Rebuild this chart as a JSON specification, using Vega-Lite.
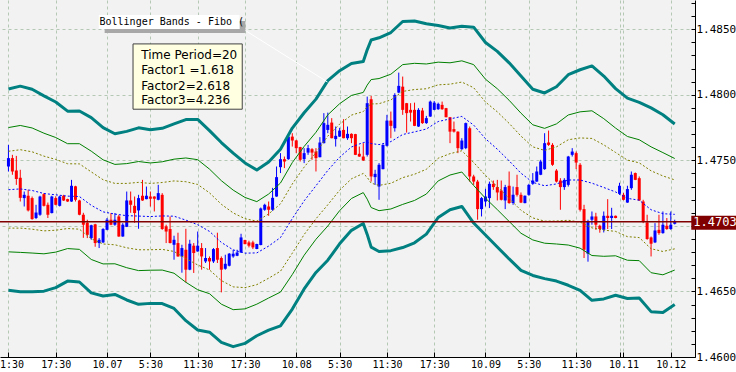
{
"$schema": "https://vega.github.io/schema/vega-lite/v6.json",
"width": 695, "height": 357,
"autosize": {"type": "none"},
"padding": {"left": 0, "top": 0, "right": 41, "bottom": 15},
"background": "#ffffff",
"config": {"view": {"fill": "#f2f2f2", "stroke": null}},
"datasets": {
"candles": [
{"k":0,"o":1.47453,"h":1.47618,"l":1.47415,"c":1.47517},
{"k":1,"o":1.47517,"h":1.47542,"l":1.47390,"c":1.47415},
{"k":2,"o":1.47422,"h":1.47534,"l":1.47313,"c":1.47357},
{"k":3,"o":1.47367,"h":1.47428,"l":1.47186,"c":1.47214},
{"k":4,"o":1.47212,"h":1.47262,"l":1.47148,"c":1.47237},
{"k":5,"o":1.47230,"h":1.47275,"l":1.47110,"c":1.47118},
{"k":6,"o":1.47212,"h":1.47224,"l":1.47047,"c":1.47052},
{"k":7,"o":1.47060,"h":1.47161,"l":1.47052,"c":1.47102},
{"k":8,"o":1.47085,"h":1.47230,"l":1.47077,"c":1.47224},
{"k":9,"o":1.47242,"h":1.47250,"l":1.47148,"c":1.47153},
{"k":10,"o":1.47161,"h":1.47178,"l":1.47060,"c":1.47085},
{"k":11,"o":1.47098,"h":1.47230,"l":1.47095,"c":1.47224},
{"k":12,"o":1.47212,"h":1.47226,"l":1.47157,"c":1.47161},
{"k":13,"o":1.47153,"h":1.47230,"l":1.47148,"c":1.47224},
{"k":14,"o":1.47230,"h":1.47237,"l":1.47190,"c":1.47194},
{"k":15,"o":1.47204,"h":1.47207,"l":1.47183,"c":1.47186},
{"k":16,"o":1.47186,"h":1.47351,"l":1.47183,"c":1.47306},
{"k":17,"o":1.47302,"h":1.47306,"l":1.47186,"c":1.47199},
{"k":18,"o":1.47194,"h":1.47199,"l":1.47081,"c":1.47085},
{"k":19,"o":1.47085,"h":1.47100,"l":1.46909,"c":1.47009},
{"k":20,"o":1.47024,"h":1.47047,"l":1.46907,"c":1.46932},
{"k":21,"o":1.46907,"h":1.47009,"l":1.46894,"c":1.47005},
{"k":22,"o":1.47012,"h":1.47016,"l":1.46841,"c":1.46869},
{"k":23,"o":1.46869,"h":1.46907,"l":1.46831,"c":1.46894},
{"k":24,"o":1.46874,"h":1.46983,"l":1.46869,"c":1.46976},
{"k":25,"o":1.46970,"h":1.47060,"l":1.46967,"c":1.47047},
{"k":26,"o":1.47047,"h":1.47098,"l":1.47005,"c":1.47009},
{"k":27,"o":1.47009,"h":1.47098,"l":1.47001,"c":1.47047},
{"k":28,"o":1.47072,"h":1.47085,"l":1.46917,"c":1.46919},
{"k":29,"o":1.46919,"h":1.47021,"l":1.46917,"c":1.47009},
{"k":30,"o":1.46993,"h":1.47262,"l":1.46991,"c":1.47194},
{"k":31,"o":1.47194,"h":1.47262,"l":1.47100,"c":1.47161},
{"k":32,"o":1.47153,"h":1.47224,"l":1.47024,"c":1.47098},
{"k":33,"o":1.47118,"h":1.47237,"l":1.46978,"c":1.47212},
{"k":34,"o":1.47230,"h":1.47351,"l":1.47191,"c":1.47194},
{"k":35,"o":1.47204,"h":1.47300,"l":1.47203,"c":1.47230},
{"k":36,"o":1.47224,"h":1.47262,"l":1.47148,"c":1.47207},
{"k":37,"o":1.47224,"h":1.47226,"l":1.47110,"c":1.47207},
{"k":38,"o":1.47199,"h":1.47313,"l":1.47195,"c":1.47250},
{"k":39,"o":1.47237,"h":1.47250,"l":1.46970,"c":1.46976},
{"k":40,"o":1.46996,"h":1.47009,"l":1.46869,"c":1.46957},
{"k":41,"o":1.46976,"h":1.47072,"l":1.46867,"c":1.46869},
{"k":42,"o":1.46856,"h":1.46925,"l":1.46742,"c":1.46894},
{"k":43,"o":1.46869,"h":1.46948,"l":1.46765,"c":1.46767},
{"k":44,"o":1.46767,"h":1.46856,"l":1.46643,"c":1.46831},
{"k":45,"o":1.46818,"h":1.46978,"l":1.46569,"c":1.46666},
{"k":46,"o":1.46666,"h":1.46894,"l":1.46662,"c":1.46864},
{"k":47,"o":1.46849,"h":1.46869,"l":1.46641,"c":1.46793},
{"k":48,"o":1.46805,"h":1.46957,"l":1.46803,"c":1.46849},
{"k":49,"o":1.46831,"h":1.46869,"l":1.46666,"c":1.46767},
{"k":50,"o":1.46729,"h":1.46831,"l":1.46717,"c":1.46755},
{"k":51,"o":1.46755,"h":1.46767,"l":1.46666,"c":1.46729},
{"k":52,"o":1.46729,"h":1.46831,"l":1.46717,"c":1.46823},
{"k":53,"o":1.46831,"h":1.46948,"l":1.46717,"c":1.46742},
{"k":54,"o":1.46755,"h":1.46767,"l":1.46493,"c":1.46666},
{"k":55,"o":1.46673,"h":1.46780,"l":1.46666,"c":1.46711},
{"k":56,"o":1.46696,"h":1.46793,"l":1.46691,"c":1.46788},
{"k":57,"o":1.46767,"h":1.46818,"l":1.46757,"c":1.46788},
{"k":58,"o":1.46772,"h":1.46818,"l":1.46769,"c":1.46797},
{"k":59,"o":1.46797,"h":1.46940,"l":1.46795,"c":1.46912},
{"k":60,"o":1.46892,"h":1.46894,"l":1.46860,"c":1.46861},
{"k":61,"o":1.46874,"h":1.46887,"l":1.46836,"c":1.46849},
{"k":62,"o":1.46874,"h":1.46887,"l":1.46823,"c":1.46836},
{"k":63,"o":1.46823,"h":1.46864,"l":1.46822,"c":1.46861},
{"k":64,"o":1.46854,"h":1.47140,"l":1.46852,"c":1.47133},
{"k":65,"o":1.47123,"h":1.47169,"l":1.47115,"c":1.47161},
{"k":66,"o":1.47148,"h":1.47186,"l":1.47077,"c":1.47123},
{"k":67,"o":1.47123,"h":1.47290,"l":1.47115,"c":1.47214},
{"k":68,"o":1.47224,"h":1.47453,"l":1.47222,"c":1.47372},
{"k":69,"o":1.47448,"h":1.47555,"l":1.47403,"c":1.47509},
{"k":70,"o":1.47509,"h":1.47529,"l":1.47441,"c":1.47491},
{"k":71,"o":1.47509,"h":1.47694,"l":1.47504,"c":1.47681},
{"k":72,"o":1.47681,"h":1.47707,"l":1.47605,"c":1.47651},
{"k":73,"o":1.47652,"h":1.47656,"l":1.47555,"c":1.47593},
{"k":74,"o":1.47601,"h":1.47603,"l":1.47491,"c":1.47504},
{"k":75,"o":1.47509,"h":1.47593,"l":1.47479,"c":1.47555},
{"k":76,"o":1.47559,"h":1.47618,"l":1.47542,"c":1.47593},
{"k":77,"o":1.47585,"h":1.47593,"l":1.47504,"c":1.47559},
{"k":78,"o":1.47567,"h":1.47593,"l":1.47415,"c":1.47517},
{"k":79,"o":1.47524,"h":1.47677,"l":1.47523,"c":1.47636},
{"k":80,"o":1.47631,"h":1.47860,"l":1.47629,"c":1.47784},
{"k":81,"o":1.47732,"h":1.47864,"l":1.47707,"c":1.47771},
{"k":82,"o":1.47788,"h":1.47822,"l":1.47668,"c":1.47669},
{"k":83,"o":1.47662,"h":1.47758,"l":1.47605,"c":1.47687},
{"k":84,"o":1.47681,"h":1.47748,"l":1.47679,"c":1.47727},
{"k":85,"o":1.47732,"h":1.47814,"l":1.47668,"c":1.47669},
{"k":86,"o":1.47669,"h":1.47758,"l":1.47656,"c":1.47702},
{"k":87,"o":1.47702,"h":1.47706,"l":1.47631,"c":1.47669},
{"k":88,"o":1.47700,"h":1.47702,"l":1.47540,"c":1.47542},
{"k":89,"o":1.47550,"h":1.47605,"l":1.47527,"c":1.47529},
{"k":90,"o":1.47529,"h":1.47631,"l":1.47496,"c":1.47499},
{"k":91,"o":1.47542,"h":1.47986,"l":1.47529,"c":1.47936},
{"k":92,"o":1.47966,"h":1.47992,"l":1.47338,"c":1.47377},
{"k":93,"o":1.47372,"h":1.47428,"l":1.47313,"c":1.47397},
{"k":94,"o":1.47300,"h":1.47479,"l":1.47199,"c":1.47466},
{"k":95,"o":1.47433,"h":1.47622,"l":1.47431,"c":1.47618},
{"k":96,"o":1.47611,"h":1.47847,"l":1.47605,"c":1.47803},
{"k":97,"o":1.47803,"h":1.47872,"l":1.47669,"c":1.47763},
{"k":98,"o":1.47745,"h":1.48012,"l":1.47719,"c":1.47999},
{"k":99,"o":1.48017,"h":1.48169,"l":1.48012,"c":1.48068},
{"k":100,"o":1.48062,"h":1.48139,"l":1.47847,"c":1.47885},
{"k":101,"o":1.47936,"h":1.47938,"l":1.47712,"c":1.47860},
{"k":102,"o":1.47885,"h":1.47936,"l":1.47796,"c":1.47864},
{"k":103,"o":1.47885,"h":1.47940,"l":1.47761,"c":1.47763},
{"k":104,"o":1.47758,"h":1.47898,"l":1.47755,"c":1.47885},
{"k":105,"o":1.47880,"h":1.47900,"l":1.47778,"c":1.47784},
{"k":106,"o":1.47784,"h":1.47839,"l":1.47778,"c":1.47822},
{"k":107,"o":1.47834,"h":1.47956,"l":1.47832,"c":1.47948},
{"k":108,"o":1.47885,"h":1.47953,"l":1.47883,"c":1.47940},
{"k":109,"o":1.47890,"h":1.47940,"l":1.47885,"c":1.47931},
{"k":110,"o":1.47923,"h":1.47948,"l":1.47885,"c":1.47890},
{"k":111,"o":1.47898,"h":1.47900,"l":1.47828,"c":1.47829},
{"k":112,"o":1.47829,"h":1.47831,"l":1.47631,"c":1.47719},
{"k":113,"o":1.47738,"h":1.47796,"l":1.47712,"c":1.47719},
{"k":114,"o":1.47719,"h":1.47721,"l":1.47555,"c":1.47593},
{"k":115,"o":1.47585,"h":1.47669,"l":1.47580,"c":1.47651},
{"k":116,"o":1.47593,"h":1.47788,"l":1.47585,"c":1.47784},
{"k":117,"o":1.47745,"h":1.47758,"l":1.47338,"c":1.47377},
{"k":118,"o":1.47377,"h":1.47390,"l":1.47313,"c":1.47338},
{"k":119,"o":1.47338,"h":1.47351,"l":1.47047,"c":1.47128},
{"k":120,"o":1.47128,"h":1.47220,"l":1.47072,"c":1.47212},
{"k":121,"o":1.47186,"h":1.47283,"l":1.47148,"c":1.47224},
{"k":122,"o":1.47212,"h":1.47338,"l":1.47136,"c":1.47321},
{"k":123,"o":1.47321,"h":1.47346,"l":1.47275,"c":1.47296},
{"k":124,"o":1.47296,"h":1.47351,"l":1.47194,"c":1.47255},
{"k":125,"o":1.47270,"h":1.47346,"l":1.47194,"c":1.47199},
{"k":126,"o":1.47194,"h":1.47313,"l":1.47128,"c":1.47296},
{"k":127,"o":1.47306,"h":1.47415,"l":1.47169,"c":1.47174},
{"k":128,"o":1.47174,"h":1.47300,"l":1.47161,"c":1.47237},
{"k":129,"o":1.47296,"h":1.47390,"l":1.47224,"c":1.47237},
{"k":130,"o":1.47237,"h":1.47255,"l":1.47174,"c":1.47178},
{"k":131,"o":1.47174,"h":1.47232,"l":1.47172,"c":1.47230},
{"k":132,"o":1.47237,"h":1.47321,"l":1.47230,"c":1.47313},
{"k":133,"o":1.47321,"h":1.47403,"l":1.47313,"c":1.47346},
{"k":134,"o":1.47338,"h":1.47453,"l":1.47336,"c":1.47415},
{"k":135,"o":1.47390,"h":1.47504,"l":1.47387,"c":1.47491},
{"k":136,"o":1.47433,"h":1.47707,"l":1.47428,"c":1.47631},
{"k":137,"o":1.47636,"h":1.47727,"l":1.47610,"c":1.47618},
{"k":138,"o":1.47618,"h":1.47631,"l":1.47458,"c":1.47466},
{"k":139,"o":1.47422,"h":1.47433,"l":1.47331,"c":1.47338},
{"k":140,"o":1.47346,"h":1.47364,"l":1.47123,"c":1.47296},
{"k":141,"o":1.47296,"h":1.47364,"l":1.47275,"c":1.47351},
{"k":142,"o":1.47313,"h":1.47534,"l":1.47300,"c":1.47529},
{"k":143,"o":1.47542,"h":1.47593,"l":1.47529,"c":1.47567},
{"k":144,"o":1.47555,"h":1.47567,"l":1.47433,"c":1.47483},
{"k":145,"o":1.47466,"h":1.47479,"l":1.47110,"c":1.47123},
{"k":146,"o":1.47128,"h":1.47161,"l":1.46755,"c":1.46818},
{"k":147,"o":1.46788,"h":1.47047,"l":1.46727,"c":1.47034},
{"k":148,"o":1.47047,"h":1.47110,"l":1.47009,"c":1.47072},
{"k":149,"o":1.47072,"h":1.47100,"l":1.46970,"c":1.47009},
{"k":150,"o":1.47001,"h":1.47009,"l":1.46948,"c":1.46976},
{"k":151,"o":1.46970,"h":1.47110,"l":1.46950,"c":1.47077},
{"k":152,"o":1.47077,"h":1.47204,"l":1.46976,"c":1.47060},
{"k":153,"o":1.47060,"h":1.47138,"l":1.46976,"c":1.47077},
{"k":154,"o":1.47077,"h":1.47079,"l":1.47058,"c":1.47060},
{"k":155,"o":1.47245,"h":1.47329,"l":1.47237,"c":1.47306},
{"k":156,"o":1.47237,"h":1.47252,"l":1.47195,"c":1.47199},
{"k":157,"o":1.47178,"h":1.47306,"l":1.47176,"c":1.47281},
{"k":158,"o":1.47288,"h":1.47415,"l":1.47275,"c":1.47390},
{"k":159,"o":1.47403,"h":1.47407,"l":1.47349,"c":1.47351},
{"k":160,"o":1.47364,"h":1.47377,"l":1.47191,"c":1.47194},
{"k":161,"o":1.47186,"h":1.47199,"l":1.47021,"c":1.47034},
{"k":162,"o":1.47026,"h":1.47085,"l":1.46894,"c":1.46900},
{"k":163,"o":1.46912,"h":1.46919,"l":1.46767,"c":1.46864},
{"k":164,"o":1.46874,"h":1.47021,"l":1.46869,"c":1.46965},
{"k":165,"o":1.46970,"h":1.47085,"l":1.46932,"c":1.46945},
{"k":166,"o":1.46945,"h":1.47110,"l":1.46940,"c":1.47009},
{"k":167,"o":1.47001,"h":1.47060,"l":1.46970,"c":1.46976},
{"k":168,"o":1.46976,"h":1.47110,"l":1.46970,"c":1.47009},
{"k":169,"o":1.47016,"h":1.47047,"l":1.47011,"c":1.47031}
],
"bands": [
{"k":0,"u3":1.48044,"u2":1.47750,"u1":1.47569,"m":1.47276,"l1":1.46983,"l2":1.46802,"l3":1.46509},
{"k":3,"u3":1.48066,"u2":1.47766,"u1":1.47581,"m":1.47282,"l1":1.46983,"l2":1.46798,"l3":1.46498},
{"k":6,"u3":1.48042,"u2":1.47747,"u1":1.47565,"m":1.47270,"l1":1.46975,"l2":1.46793,"l3":1.46498},
{"k":9,"u3":1.47992,"u2":1.47707,"u1":1.47532,"m":1.47247,"l1":1.46962,"l2":1.46787,"l3":1.46502},
{"k":12,"u3":1.47945,"u2":1.47674,"u1":1.47507,"m":1.47237,"l1":1.46967,"l2":1.46800,"l3":1.46529},
{"k":15,"u3":1.47875,"u2":1.47627,"u1":1.47474,"m":1.47227,"l1":1.46980,"l2":1.46827,"l3":1.46579},
{"k":18,"u3":1.47876,"u2":1.47627,"u1":1.47473,"m":1.47224,"l1":1.46975,"l2":1.46821,"l3":1.46572},
{"k":21,"u3":1.47826,"u2":1.47570,"u1":1.47412,"m":1.47157,"l1":1.46902,"l2":1.46744,"l3":1.46489},
{"k":24,"u3":1.47749,"u2":1.47504,"u1":1.47352,"m":1.47107,"l1":1.46862,"l2":1.46710,"l3":1.46465},
{"k":27,"u3":1.47703,"u2":1.47469,"u1":1.47324,"m":1.47090,"l1":1.46856,"l2":1.46711,"l3":1.46477},
{"k":30,"u3":1.47721,"u2":1.47475,"u1":1.47324,"m":1.47078,"l1":1.46833,"l2":1.46681,"l3":1.46435},
{"k":33,"u3":1.47748,"u2":1.47491,"u1":1.47332,"m":1.47075,"l1":1.46818,"l2":1.46659,"l3":1.46402},
{"k":36,"u3":1.47734,"u2":1.47480,"u1":1.47324,"m":1.47071,"l1":1.46818,"l2":1.46662,"l3":1.46409},
{"k":39,"u3":1.47744,"u2":1.47489,"u1":1.47331,"m":1.47076,"l1":1.46821,"l2":1.46663,"l3":1.46408},
{"k":42,"u3":1.47778,"u2":1.47509,"u1":1.47343,"m":1.47074,"l1":1.46805,"l2":1.46639,"l3":1.46370},
{"k":45,"u3":1.47811,"u2":1.47518,"u1":1.47337,"m":1.47044,"l1":1.46751,"l2":1.46570,"l3":1.46277},
{"k":48,"u3":1.47812,"u2":1.47505,"u1":1.47316,"m":1.47009,"l1":1.46702,"l2":1.46513,"l3":1.46206},
{"k":51,"u3":1.47727,"u2":1.47433,"u1":1.47252,"m":1.46958,"l1":1.46664,"l2":1.46483,"l3":1.46189},
{"k":54,"u3":1.47636,"u2":1.47345,"u1":1.47165,"m":1.46874,"l1":1.46583,"l2":1.46403,"l3":1.46112},
{"k":57,"u3":1.47555,"u2":1.47273,"u1":1.47099,"m":1.46817,"l1":1.46535,"l2":1.46361,"l3":1.46079},
{"k":60,"u3":1.47480,"u2":1.47217,"u1":1.47055,"m":1.46792,"l1":1.46529,"l2":1.46367,"l3":1.46104},
{"k":63,"u3":1.47426,"u2":1.47185,"u1":1.47036,"m":1.46794,"l1":1.46552,"l2":1.46403,"l3":1.46162},
{"k":66,"u3":1.47488,"u2":1.47243,"u1":1.47091,"m":1.46846,"l1":1.46601,"l2":1.46450,"l3":1.46205},
{"k":69,"u3":1.47585,"u2":1.47327,"u1":1.47168,"m":1.46911,"l1":1.46654,"l2":1.46495,"l3":1.46238},
{"k":72,"u3":1.47746,"u2":1.47483,"u1":1.47320,"m":1.47056,"l1":1.46792,"l2":1.46629,"l3":1.46366},
{"k":75,"u3":1.47863,"u2":1.47606,"u1":1.47448,"m":1.47191,"l1":1.46934,"l2":1.46776,"l3":1.46519},
{"k":78,"u3":1.47967,"u2":1.47714,"u1":1.47559,"m":1.47306,"l1":1.47054,"l2":1.46898,"l3":1.46645},
{"k":81,"u3":1.48108,"u2":1.47847,"u1":1.47685,"m":1.47423,"l1":1.47161,"l2":1.46999,"l3":1.46738},
{"k":84,"u3":1.48184,"u2":1.47932,"u1":1.47776,"m":1.47524,"l1":1.47272,"l2":1.47116,"l3":1.46863},
{"k":87,"u3":1.48238,"u2":1.47995,"u1":1.47845,"m":1.47602,"l1":1.47359,"l2":1.47209,"l3":1.46966},
{"k":90,"u3":1.48254,"u2":1.48018,"u1":1.47872,"m":1.47636,"l1":1.47400,"l2":1.47254,"l3":1.47018},
{"k":91,"u3":1.48343,"u2":1.48074,"u1":1.47908,"m":1.47639,"l1":1.47370,"l2":1.47204,"l3":1.46935},
{"k":92,"u3":1.48418,"u2":1.48116,"u1":1.47930,"m":1.47628,"l1":1.47326,"l2":1.47140,"l3":1.46838},
{"k":94,"u3":1.48435,"u2":1.48124,"u1":1.47932,"m":1.47620,"l1":1.47309,"l2":1.47116,"l3":1.46805},
{"k":97,"u3":1.48475,"u2":1.48157,"u1":1.47961,"m":1.47643,"l1":1.47325,"l2":1.47129,"l3":1.46811},
{"k":100,"u3":1.48559,"u2":1.48230,"u1":1.48026,"m":1.47697,"l1":1.47368,"l2":1.47164,"l3":1.46835},
{"k":103,"u3":1.48563,"u2":1.48240,"u1":1.48040,"m":1.47717,"l1":1.47394,"l2":1.47194,"l3":1.46871},
{"k":106,"u3":1.48542,"u2":1.48235,"u1":1.48046,"m":1.47739,"l1":1.47432,"l2":1.47243,"l3":1.46937},
{"k":109,"u3":1.48529,"u2":1.48249,"u1":1.48076,"m":1.47796,"l1":1.47516,"l2":1.47343,"l3":1.47064},
{"k":112,"u3":1.48509,"u2":1.48244,"u1":1.48081,"m":1.47816,"l1":1.47551,"l2":1.47388,"l3":1.47123},
{"k":115,"u3":1.48522,"u2":1.48259,"u1":1.48097,"m":1.47835,"l1":1.47573,"l2":1.47411,"l3":1.47148},
{"k":118,"u3":1.48516,"u2":1.48230,"u1":1.48054,"m":1.47769,"l1":1.47484,"l2":1.47308,"l3":1.47022},
{"k":121,"u3":1.48399,"u2":1.48119,"u1":1.47945,"m":1.47665,"l1":1.47385,"l2":1.47211,"l3":1.46931},
{"k":124,"u3":1.48331,"u2":1.48046,"u1":1.47870,"m":1.47585,"l1":1.47300,"l2":1.47124,"l3":1.46839},
{"k":127,"u3":1.48244,"u2":1.47958,"u1":1.47782,"m":1.47496,"l1":1.47210,"l2":1.47034,"l3":1.46748},
{"k":130,"u3":1.48143,"u2":1.47860,"u1":1.47685,"m":1.47402,"l1":1.47119,"l2":1.46944,"l3":1.46661},
{"k":133,"u3":1.48042,"u2":1.47771,"u1":1.47603,"m":1.47332,"l1":1.47061,"l2":1.46893,"l3":1.46622},
{"k":136,"u3":1.48014,"u2":1.47744,"u1":1.47576,"m":1.47306,"l1":1.47036,"l2":1.46868,"l3":1.46598},
{"k":139,"u3":1.48061,"u2":1.47778,"u1":1.47603,"m":1.47320,"l1":1.47037,"l2":1.46862,"l3":1.46579},
{"k":142,"u3":1.48153,"u2":1.47846,"u1":1.47657,"m":1.47350,"l1":1.47043,"l2":1.46854,"l3":1.46547},
{"k":145,"u3":1.48191,"u2":1.47870,"u1":1.47671,"m":1.47350,"l1":1.47029,"l2":1.46830,"l3":1.46509},
{"k":148,"u3":1.48220,"u2":1.47878,"u1":1.47667,"m":1.47326,"l1":1.46985,"l2":1.46774,"l3":1.46432},
{"k":151,"u3":1.48143,"u2":1.47818,"u1":1.47618,"m":1.47293,"l1":1.46968,"l2":1.46768,"l3":1.46443},
{"k":154,"u3":1.48047,"u2":1.47746,"u1":1.47560,"m":1.47259,"l1":1.46958,"l2":1.46772,"l3":1.46471},
{"k":157,"u3":1.47974,"u2":1.47682,"u1":1.47502,"m":1.47210,"l1":1.46918,"l2":1.46738,"l3":1.46446},
{"k":160,"u3":1.47942,"u2":1.47657,"u1":1.47481,"m":1.47196,"l1":1.46911,"l2":1.46735,"l3":1.46450},
{"k":163,"u3":1.47900,"u2":1.47603,"u1":1.47420,"m":1.47123,"l1":1.46826,"l2":1.46643,"l3":1.46346},
{"k":166,"u3":1.47848,"u2":1.47559,"u1":1.47381,"m":1.47093,"l1":1.46805,"l2":1.46627,"l3":1.46339},
{"k":169,"u3":1.47777,"u2":1.47514,"u1":1.47351,"m":1.47088,"l1":1.46825,"l2":1.46663,"l3":1.46400}
]
},
"layer": [
{
"data": {"name": "candles"},
"mark": {"type": "rule", "strokeWidth": 1},
"encoding": {
"x": {"field": "k", "type": "quantitative", "scale": {"domain": [-0.875, 172.875], "nice": false, "zero": false},
"axis": {"values": [0,12,25,36,48,60,73,84,96,108,121,132,144,155,156,168], "tickCount": 200,
"labelExpr": "datum.value==0?'11:30':datum.value==12?'17:30':datum.value==25?'10.07':datum.value==36?'5:30':datum.value==48?'11:30':datum.value==60?'17:30':datum.value==73?'10.08':datum.value==84?'5:30':datum.value==96?'11:30':datum.value==108?'17:30':datum.value==121?'10.09':datum.value==132?'5:30':datum.value==144?'11:30':datum.value==156?'10.11':datum.value==168?'10.12':''",
"grid": true, "gridDash": [3, 3], "gridColor": "#b4c8b4", "gridWidth": 1,
"domainColor": "#000000", "tickColor": "#000000", "tickSize": -5, "labelPadding": 7,
"labelFont": "DejaVu Sans Mono", "labelFontSize": 10, "labelColor": "#000000",
"labelFlush": false, "labelOverlap": false, "title": null}},
"y": {"field": "l", "type": "quantitative", "scale": {"domain": [1.46, 1.48723], "nice": false, "zero": false},
"axis": {"orient": "right", "tickCount": 200,
"values": [1.46,1.461,1.462,1.463,1.464,1.465,1.466,1.467,1.468,1.469,1.47,1.471,1.472,1.473,1.474,1.475,1.476,1.477,1.478,1.479,1.48,1.481,1.482,1.483,1.484,1.485,1.486,1.487],
"labelExpr": "abs(datum.value*200-round(datum.value*200))<0.01 && abs(datum.value-1.47)>0.0001 ? format(datum.value, '.5f') : ''",
"grid": true, "gridDash": [3, 3], "gridColor": "#b4c8b4",
"gridOpacity": {"condition": {"test": "abs(datum.value*200-round(datum.value*200))<0.01", "value": 1}, "value": 0},
"domainColor": "#000000", "tickColor": "#000000", "tickSize": -4, "labelPadding": 5,
"labelFont": "DejaVu Sans Mono", "labelFontSize": 11, "labelColor": "#000000", "labelAlign": "left", "labelBaseline": "middle",
"labelFlush": false, "labelOverlap": false, "title": null}},
"y2": {"field": "h"},
"color": {"condition": {"test": "datum.c > datum.o", "value": "#0000ff"}, "value": "#ff0000"}
}
},
{
"data": {"name": "candles"},
"mark": {"type": "bar", "size": 3},
"encoding": {
"x": {"field": "k", "type": "quantitative", "scale": {"domain": [-0.875, 172.875], "nice": false, "zero": false}},
"y": {"field": "o", "type": "quantitative", "scale": {"domain": [1.46, 1.48723], "nice": false, "zero": false}},
"y2": {"field": "c"},
"color": {"condition": {"test": "datum.c > datum.o", "value": "#0000ff"}, "value": "#ff0000"}
}
},
{
"data": {"name": "bands"},
"transform": [{"fold": ["u3", "l3"], "as": ["band", "v"]}],
"mark": {"type": "line", "color": "#008080", "strokeWidth": 3, "strokeJoin": "round"},
"encoding": {
"x": {"field": "k", "type": "quantitative", "scale": {"domain": [-0.875, 172.875], "nice": false, "zero": false}},
"y": {"field": "v", "type": "quantitative", "scale": {"domain": [1.46, 1.48723], "nice": false, "zero": false}},
"detail": {"field": "band"}
}
},
{
"data": {"name": "bands"},
"transform": [{"fold": ["u2", "l2"], "as": ["band", "v"]}],
"mark": {"type": "line", "color": "#008000", "strokeWidth": 1},
"encoding": {
"x": {"field": "k", "type": "quantitative", "scale": {"domain": [-0.875, 172.875], "nice": false, "zero": false}},
"y": {"field": "v", "type": "quantitative", "scale": {"domain": [1.46, 1.48723], "nice": false, "zero": false}},
"detail": {"field": "band"}
}
},
{
"data": {"name": "bands"},
"transform": [{"fold": ["u1", "l1"], "as": ["band", "v"]}],
"mark": {"type": "line", "color": "#808000", "strokeWidth": 1, "strokeDash": [2, 2]},
"encoding": {
"x": {"field": "k", "type": "quantitative", "scale": {"domain": [-0.875, 172.875], "nice": false, "zero": false}},
"y": {"field": "v", "type": "quantitative", "scale": {"domain": [1.46, 1.48723], "nice": false, "zero": false}},
"detail": {"field": "band"}
}
},
{
"data": {"name": "bands"},
"mark": {"type": "line", "color": "#0000ff", "strokeWidth": 1, "strokeDash": [2, 2]},
"encoding": {
"x": {"field": "k", "type": "quantitative", "scale": {"domain": [-0.875, 172.875], "nice": false, "zero": false}},
"y": {"field": "m", "type": "quantitative", "scale": {"domain": [1.46, 1.48723], "nice": false, "zero": false}}
}
},
{
"data": {"values": [{"p": 1.47031}]},
"mark": {"type": "rule", "color": "#800000", "strokeWidth": 1.5},
"encoding": {
"y": {"field": "p", "type": "quantitative", "scale": {"domain": [1.46, 1.48723], "nice": false, "zero": false}}
}
},
{
"data": {"values": [{"k": 173.2, "k2": 190, "p": 1.47077, "p2": 1.46970}]},
"mark": {"type": "rect", "color": "#800000"},
"encoding": {
"x": {"field": "k", "type": "quantitative", "scale": {"domain": [-0.875, 172.875], "nice": false, "zero": false}},
"x2": {"field": "k2"},
"y": {"field": "p", "type": "quantitative", "scale": {"domain": [1.46, 1.48723], "nice": false, "zero": false}},
"y2": {"field": "p2"}
}
},
{
"data": {"values": [{"k": 173.2, "p": 1.47031, "t": "1.47031"}]},
"mark": {"type": "text", "color": "#ffffff", "align": "left", "baseline": "middle", "dx": 2, "font": "DejaVu Sans Mono", "fontSize": 12},
"encoding": {
"x": {"field": "k", "type": "quantitative", "scale": {"domain": [-0.875, 172.875], "nice": false, "zero": false}},
"y": {"field": "p", "type": "quantitative", "scale": {"domain": [1.46, 1.48723], "nice": false, "zero": false}},
"text": {"field": "t"}
}
},
{
"data": {"values": [{"k": 59.9, "k2": 80.9, "p": 1.48494, "p2": 1.48098}]},
"mark": {"type": "rule", "color": "#ffffff", "strokeWidth": 1},
"encoding": {
"x": {"field": "k", "type": "quantitative", "scale": {"domain": [-0.875, 172.875], "nice": false, "zero": false}},
"x2": {"field": "k2"},
"y": {"field": "p", "type": "quantitative", "scale": {"domain": [1.46, 1.48723], "nice": false, "zero": false}},
"y2": {"field": "p2"}
}
},
{
"data": {"values": [{"k": 24.4, "k2": 59.9, "p": 1.48502, "p2": 1.48472}, {"k": 58.6, "k2": 60.1, "p": 1.48563, "p2": 1.48472}]},
"mark": {"type": "rect", "color": "#a8a8a8"},
"encoding": {
"x": {"field": "k", "type": "quantitative", "scale": {"domain": [-0.875, 172.875], "nice": false, "zero": false}},
"x2": {"field": "k2"},
"y": {"field": "p", "type": "quantitative", "scale": {"domain": [1.46, 1.48723], "nice": false, "zero": false}},
"y2": {"field": "p2"}
}
},
{
"data": {"values": [{"k": 22.9, "k2": 58.6, "p": 1.48609, "p2": 1.48502}]},
"mark": {"type": "rect", "color": "#ffffff"},
"encoding": {
"x": {"field": "k", "type": "quantitative", "scale": {"domain": [-0.875, 172.875], "nice": false, "zero": false}},
"x2": {"field": "k2"},
"y": {"field": "p", "type": "quantitative", "scale": {"domain": [1.46, 1.48723], "nice": false, "zero": false}},
"y2": {"field": "p2"}
}
},
{
"data": {"values": [{"k": 23.1, "p": 1.48558, "t": "Bollinger Bands - Fibo ("}]},
"mark": {"type": "text", "color": "#000000", "align": "left", "baseline": "middle", "font": "DejaVu Sans Mono", "fontSize": 10},
"encoding": {
"x": {"field": "k", "type": "quantitative", "scale": {"domain": [-0.875, 172.875], "nice": false, "zero": false}},
"y": {"field": "p", "type": "quantitative", "scale": {"domain": [1.46, 1.48723], "nice": false, "zero": false}},
"text": {"field": "t"}
}
},
{
"data": {"values": [{"k": 31.6, "k2": 59.3, "p": 1.48388, "p2": 1.47890}]},
"mark": {"type": "rect", "fill": "#ffffe1", "stroke": "#404040", "strokeWidth": 1},
"encoding": {
"x": {"field": "k", "type": "quantitative", "scale": {"domain": [-0.875, 172.875], "nice": false, "zero": false}},
"x2": {"field": "k2"},
"y": {"field": "p", "type": "quantitative", "scale": {"domain": [1.46, 1.48723], "nice": false, "zero": false}},
"y2": {"field": "p2"}
}
},
{
"data": {"values": [{"k": 33.7, "p": 1.48304, "t": "Time Period=20"}, {"k": 33.7, "p": 1.48190, "t": "Factor1 =1.618"}, {"k": 33.7, "p": 1.48070, "t": "Factor2=2.618"}, {"k": 33.7, "p": 1.47961, "t": "Factor3=4.236"}]},
"mark": {"type": "text", "color": "#000000", "align": "left", "baseline": "middle", "font": "DejaVu Sans", "fontSize": 12},
"encoding": {
"x": {"field": "k", "type": "quantitative", "scale": {"domain": [-0.875, 172.875], "nice": false, "zero": false}},
"y": {"field": "p", "type": "quantitative", "scale": {"domain": [1.46, 1.48723], "nice": false, "zero": false}},
"text": {"field": "t"}
}
}
]
}
